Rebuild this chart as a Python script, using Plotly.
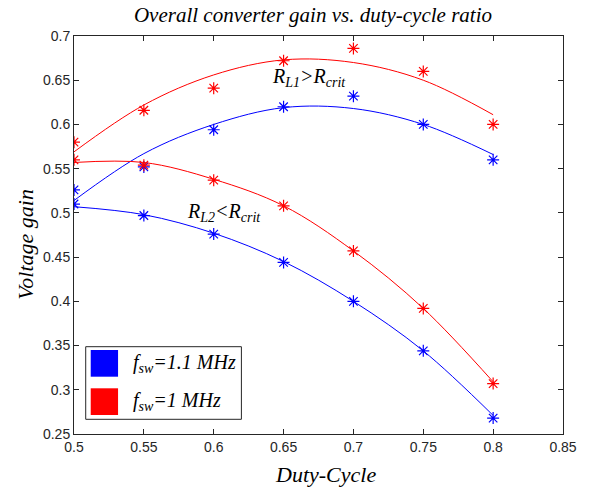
import plotly.graph_objects as go

duty = [0.5, 0.55, 0.6, 0.65, 0.7, 0.75, 0.8]

# measured points
red_hi_pts = [0.580, 0.616, 0.641, 0.672, 0.686, 0.660, 0.600]
blue_hi_pts = [0.526, 0.552, 0.594, 0.620, 0.632, 0.600, 0.560]
red_lo_pts = [0.560, 0.554, 0.537, 0.508, 0.457, 0.392, 0.307]
blue_lo_pts = [0.510, 0.497, 0.476, 0.444, 0.400, 0.344, 0.268]

# fitted curves
red_hi_fit = [0.569, 0.622, 0.656, 0.673, 0.670, 0.650, 0.611]
blue_hi_fit = [0.514, 0.567, 0.600, 0.619, 0.618, 0.600, 0.566]
red_lo_fit = [0.557, 0.557, 0.538, 0.508, 0.457, 0.392, 0.309]
blue_lo_fit = [0.507, 0.498, 0.477, 0.445, 0.400, 0.344, 0.271]

BLUE = "#0000ff"
RED = "#ff0000"
SERIF = "Liberation Serif"
SANS = "Liberation Sans"
DARK = "#262626"

fig = go.Figure()

for fit, pts, col in [(red_hi_fit, red_hi_pts, RED), (blue_hi_fit, blue_hi_pts, BLUE),
                      (red_lo_fit, red_lo_pts, RED), (blue_lo_fit, blue_lo_pts, BLUE)]:
    fig.add_trace(go.Scatter(x=duty, y=fit, mode="lines", line=dict(color=col, width=1, shape="spline"),
                             showlegend=False, hoverinfo="skip"))
    fig.add_trace(go.Scatter(x=duty, y=pts, mode="markers",
                             marker=dict(symbol="asterisk-open", size=10, color=col, line=dict(color=col, width=1.2)),
                             showlegend=False))

axis_common = dict(showline=True, linecolor=DARK, linewidth=1, mirror="allticks", ticks="inside",
                   ticklen=5, tickcolor=DARK, showgrid=False, zeroline=False,
                   tickfont=dict(family=SANS, size=14, color=DARK))

fig.update_xaxes(range=[0.5, 0.85], tick0=0.5, dtick=0.05, tickformat="~g", **axis_common)
fig.update_yaxes(range=[0.25, 0.7], tick0=0.25, dtick=0.05, tickformat="~g", **axis_common)

# plot area px: x 74..563, y 36..434
W0, W1, H0, H1 = 74.3, 562.7, 36.0, 434.0
def px(xp):
    return (xp - W0) / (W1 - W0)
def py(yp):
    return (H1 - yp) / (H1 - H0)

annotations = [
    dict(x=0.6685, y=0.653, xref="x", yref="y", text="<i>R<sub>L1</sub>&gt;R<sub>crit</sub></i>",
         showarrow=False, font=dict(family=SERIF, size=20, color="#000")),
    dict(x=0.6075, y=0.5, xref="x", yref="y", text="<i>R<sub>L2</sub>&lt;R<sub>crit</sub></i>",
         showarrow=False, font=dict(family=SERIF, size=20, color="#000")),
    # axis titles
    dict(x=px(325), y=py(474), xref="paper", yref="paper", xanchor="center", yanchor="middle",
         text="<i>Duty-Cycle</i>", showarrow=False, font=dict(family=SERIF, size=22, color="#000")),
    dict(x=px(25), y=py(244), xref="paper", yref="paper", xanchor="center", yanchor="middle", textangle=-90,
         text="<i>Voltage gain</i>", showarrow=False, font=dict(family=SERIF, size=22, color="#000")),
]

shapes = [
    dict(type="rect", xref="paper", yref="paper", x0=px(86), x1=px(241.5), y0=py(419.3), y1=py(346.7),
         line=dict(color=DARK, width=1), fillcolor="white", layer="above"),
    dict(type="rect", xref="paper", yref="paper", x0=px(91), x1=px(118.3), y0=py(376.7), y1=py(350),
         line=dict(width=0), fillcolor=BLUE, layer="above"),
    dict(type="rect", xref="paper", yref="paper", x0=px(91), x1=px(118.3), y0=py(415), y1=py(388.3),
         line=dict(width=0), fillcolor=RED, layer="above"),
]
annotations += [
    dict(x=px(131), y=py(363.5), xref="paper", yref="paper", xanchor="left", yanchor="middle",
         text="<i>f<sub>sw</sub>=1.1 MHz</i>", showarrow=False, font=dict(family=SERIF, size=20, color="#000")),
    dict(x=px(131), y=py(401.5), xref="paper", yref="paper", xanchor="left", yanchor="middle",
         text="<i>f<sub>sw</sub>=1 MHz</i>", showarrow=False, font=dict(family=SERIF, size=20, color="#000")),
]

fig.update_layout(
    width=595, height=487,
    margin=dict(l=74, r=32, t=36, b=53),
    paper_bgcolor="white", plot_bgcolor="white",
    title=dict(text="<i>Overall converter gain vs. duty-cycle ratio</i>", x=0.526, xanchor="center",
               y=0.969, yanchor="middle", font=dict(family=SERIF, size=21, color="#000")),
    annotations=annotations, shapes=shapes,
)

fig.write_html("out.html")
